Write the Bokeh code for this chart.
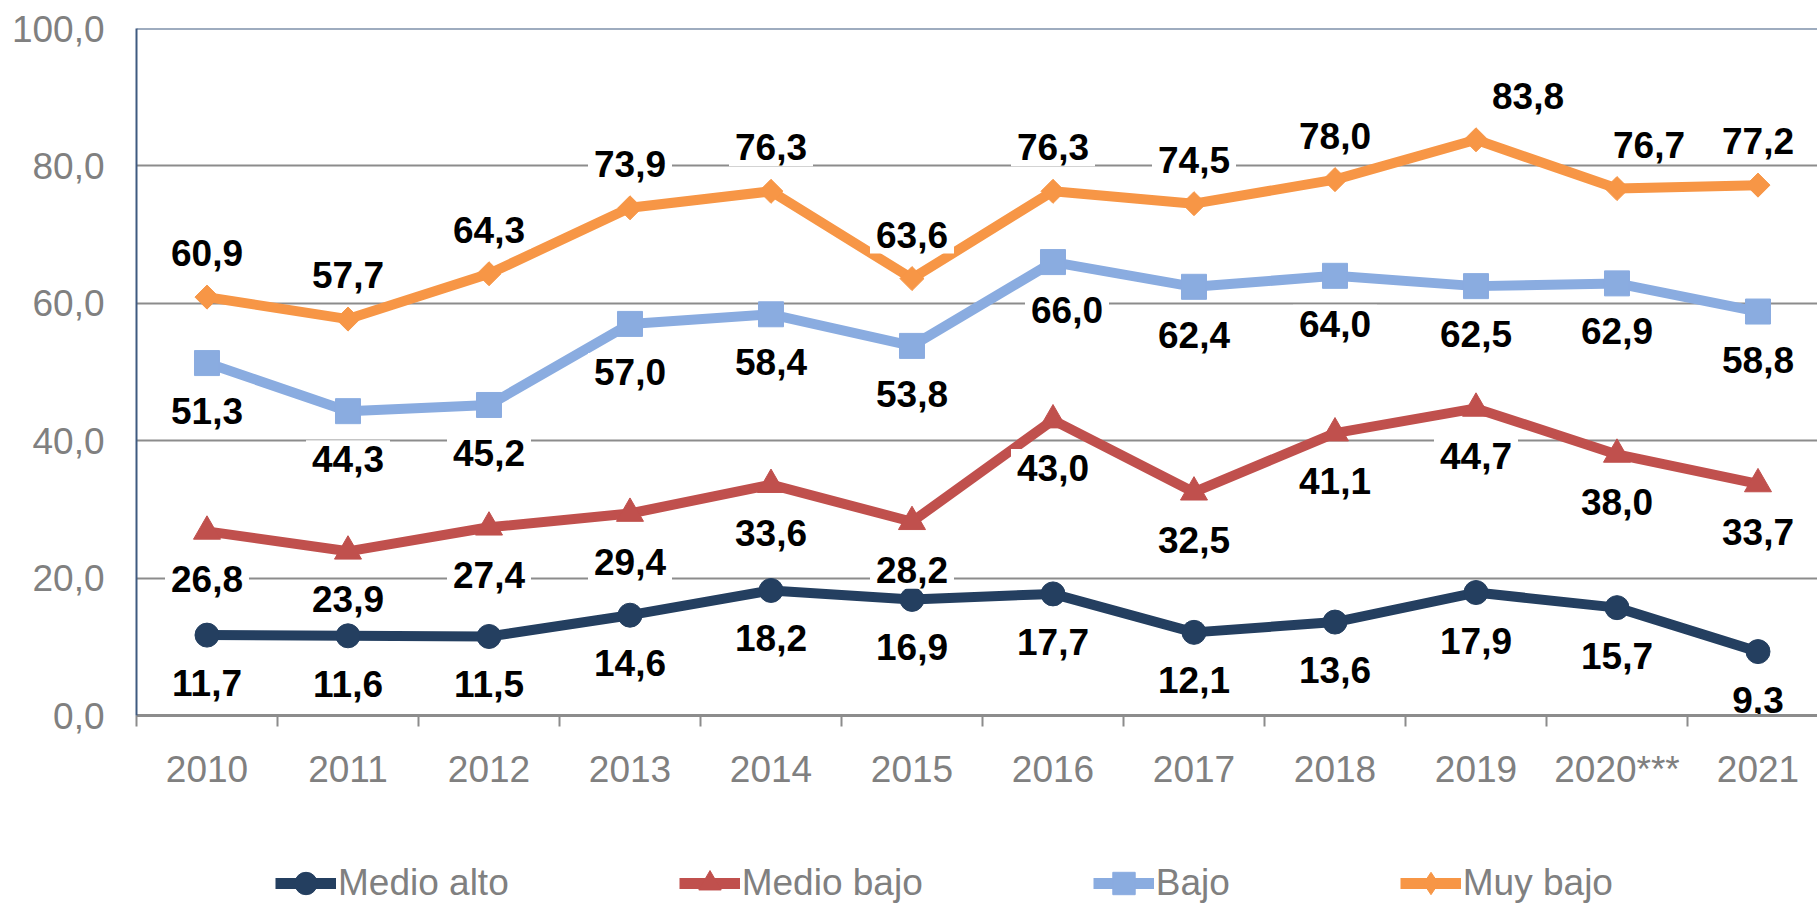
import math
from bokeh.plotting import figure
from bokeh.layouts import column
from bokeh.models import Range1d, FixedTicker, Span, Legend, LegendItem, ColumnDataSource
from bokeh.core.properties import value
from bokeh.embed import file_html
from bokeh.resources import INLINE

# ---- data ----
years = ["2010", "2011", "2012", "2013", "2014", "2015", "2016", "2017", "2018", "2019", "2020***", "2021"]
medio_alto = [11.7, 11.6, 11.5, 14.6, 18.2, 16.9, 17.7, 12.1, 13.6, 17.9, 15.7, 9.3]
medio_bajo = [26.8, 23.9, 27.4, 29.4, 33.6, 28.2, 43.0, 32.5, 41.1, 44.7, 38.0, 33.7]
bajo = [51.3, 44.3, 45.2, 57.0, 58.4, 53.8, 66.0, 62.4, 64.0, 62.5, 62.9, 58.8]
muy_bajo = [60.9, 57.7, 64.3, 73.9, 76.3, 63.6, 76.3, 74.5, 78.0, 83.8, 76.7, 77.2]
series_names = ["Medio alto", "Medio bajo", "Bajo", "Muy bajo"]
y_ticks = [0, 20, 40, 60, 80, 100]

# ---- styles ----
FONT = "Liberation Sans"
GRAY_TXT = "#808080"
GRID = "#8C8C8C"
AXIS_BLUE = "#3F5A80"
colors = ["#243F60", "#C0504D", "#8AACE0", "#F79646"]
markers = ["circle", "triangle", "square", "square"]
legend_markers = ["circle", "triangle", "square", "diamond"]
msizes = [24, 27, 25, 17]
mangles = [0, 0, 0, math.pi / 4]
label_dy = [48, 48, 48, -44]          # screen px, positive = down
label_nudge = {(3, 9): 52, (3, 10): 32, (2, 6): 14}

xs = list(range(len(years)))

p = figure(width=1817, height=800, output_backend="svg", toolbar_location=None,
           x_range=Range1d(-0.5, 11.422), y_range=Range1d(0, 100),
           min_border_left=136, min_border_right=0, min_border_top=28, min_border_bottom=85)
p.outline_line_color = None
p.background_fill_color = "white"

# x axis
p.xaxis.ticker = FixedTicker(ticks=xs, minor_ticks=[i - 0.5 for i in range(len(years) + 1)])
p.xaxis.major_label_overrides = {i: y for i, y in enumerate(years)}
p.xaxis.major_tick_out = 0
p.xaxis.major_tick_in = 0
p.xaxis.major_tick_line_color = None
p.xaxis.minor_tick_out = 11
p.xaxis.minor_tick_in = 0
p.xaxis.minor_tick_line_color = GRID
p.xaxis.minor_tick_line_width = 2
p.xaxis.axis_line_color = GRID
p.xaxis.axis_line_width = 3
p.xaxis.major_label_standoff = 22
p.xaxis.major_label_text_font = FONT
p.xaxis.major_label_text_font_size = "37px"
p.xaxis.major_label_text_color = GRAY_TXT

# y axis
p.yaxis.ticker = FixedTicker(ticks=y_ticks)
p.yaxis.major_label_overrides = {v: f"{v},0" for v in y_ticks}
p.yaxis.major_tick_out = 0
p.yaxis.major_tick_in = 0
p.yaxis.minor_tick_line_color = None
p.yaxis.axis_line_color = AXIS_BLUE
p.yaxis.axis_line_width = 2
p.yaxis.major_label_standoff = 32
p.yaxis.major_label_text_font = FONT
p.yaxis.major_label_text_font_size = "37px"
p.yaxis.major_label_text_color = GRAY_TXT

p.xgrid.visible = False
p.ygrid.ticker = FixedTicker(ticks=y_ticks)
p.ygrid.grid_line_color = GRID
p.ygrid.grid_line_width = 2

p.add_layout(Span(location=100, dimension="width", line_color=AXIS_BLUE, line_width=2))

all_series = [medio_alto, medio_bajo, bajo, muy_bajo]
sources = []
for i, (name, vals) in enumerate(zip(series_names, all_series)):
    src = ColumnDataSource(dict(x=xs, y=vals))
    sources.append(src)
    p.line("x", "y", source=src, line_color=colors[i], line_width=10, line_join="round")
    p.scatter("x", "y", source=src, marker=markers[i], size=msizes[i], angle=mangles[i],
              fill_color=colors[i], line_color=colors[i])

for i, vals in enumerate(all_series):
    txt = [f"{v:.1f}".replace(".", ",") for v in vals]
    dx = [label_nudge.get((i, j), 0) for j in range(len(vals))]
    src = ColumnDataSource(dict(x=xs, y=vals, t=txt, dx=dx))
    p.text("x", "y", text="t", source=src, x_offset="dx", y_offset=label_dy[i],
           text_align="center", text_baseline="middle",
           text_font=value(FONT), text_font_style="bold", text_font_size="37px",
           text_color="black", background_fill_color="white", padding=6)

# ---- legend strip (separate figure so nothing is clipped; its view range hides the series) ----
lg = figure(width=1817, height=103, output_backend="svg", toolbar_location=None,
            x_range=Range1d(0, 1), y_range=Range1d(-2, -1), x_axis_type=None, y_axis_type=None,
            min_border=0)
lg.outline_line_color = None
lg.xgrid.visible = False
lg.ygrid.visible = False
items = []
for i, name in enumerate(series_names):
    lr = lg.line("x", "y", source=sources[i], line_color=colors[i], line_width=11)
    sr = lg.scatter("x", "y", source=sources[i], marker=legend_markers[i], size=msizes[i],
                    fill_color=colors[i], line_color=colors[i])
    items.append(LegendItem(label=name, renderers=[lr, sr]))

legend = Legend(items=items, orientation="horizontal", location=(139, -8),
                glyph_width=61, glyph_height=56, label_height=56, label_standoff=2,
                spacing=170, padding=0, margin=0, border_line_color=None,
                background_fill_alpha=0, label_text_font=FONT, label_text_font_size="37px",
                label_text_color=GRAY_TXT)
lg.add_layout(legend)

layout = column(p, lg, spacing=0)
open("out.html", "w").write(file_html(layout, INLINE))
